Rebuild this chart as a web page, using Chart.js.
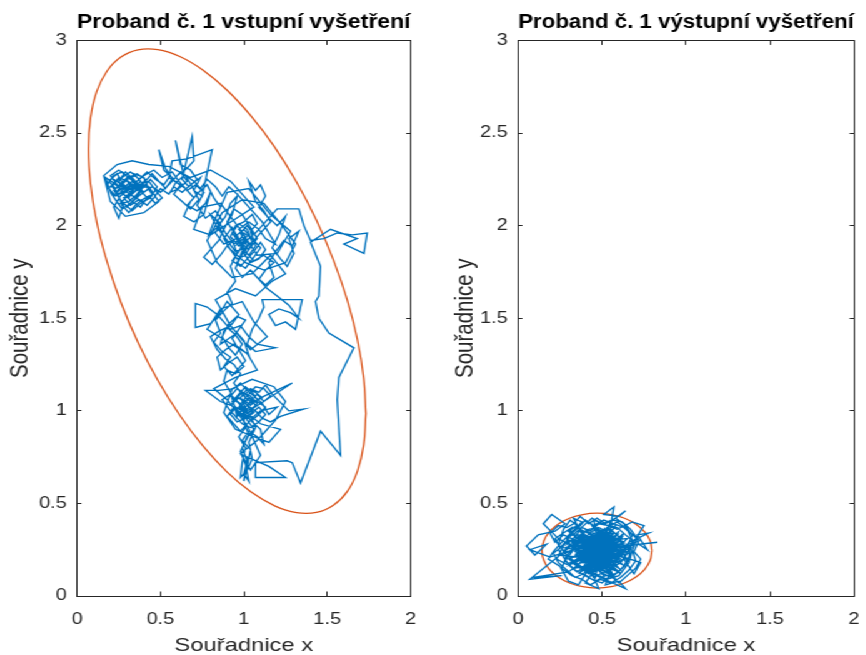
<!DOCTYPE html>
<html><head><meta charset="utf-8">
<script src="https://cdn.jsdelivr.net/npm/chart.js@4.4.1/dist/chart.umd.min.js"></script>
<style>
html,body{margin:0;padding:0;background:#fff;overflow:hidden;}
#stage{position:absolute;left:0;top:0;width:693px;height:655px;transform:scaleX(1.25);transform-origin:0 0;}
#c1{position:absolute;left:0;top:0;}
#c2{position:absolute;left:346px;top:0;}
</style></head><body>
<div id="stage"><canvas id="c1" width="346" height="655"></canvas><canvas id="c2" width="347" height="655"></canvas></div>
<script>
// ---- data ----
const titles = ['Proband č. 1 vstupní vyšetření', 'Proband č. 1 výstupní vyšetření'];
const xAxisTitle = 'Souřadnice x';
const yAxisTitle = 'Souřadnice y';
const xTickLabels = ['0', '0.5', '1', '1.5', '2'];
const yTickLabels = ['0', '0.5', '1', '1.5', '2', '2.5', '3'];

const leftPath = [
[0.30,2.22],[0.26,2.18],[0.31,2.15],[0.35,2.21],[0.29,2.25],[0.23,2.20],[0.19,2.24],[0.24,2.28],[0.28,2.22],[0.33,2.19],
[0.38,2.24],[0.34,2.28],[0.40,2.26],[0.43,2.20],[0.37,2.16],[0.32,2.12],[0.27,2.09],[0.23,2.14],[0.20,2.18],[0.17,2.26],
[0.22,2.23],[0.27,2.19],[0.31,2.23],[0.36,2.19],[0.41,2.22],[0.45,2.17],[0.40,2.13],[0.35,2.15],[0.30,2.18],[0.25,2.24],
[0.29,2.29],[0.34,2.25],[0.39,2.20],[0.44,2.25],[0.48,2.21],[0.44,2.15],[0.38,2.12],[0.33,2.08],[0.28,2.12],[0.25,2.04],
[0.22,2.10],[0.26,2.16],[0.32,2.20],[0.37,2.25],[0.42,2.29],[0.47,2.25],[0.52,2.22],[0.56,2.27],[0.53,2.31],[0.49,2.41],
[0.52,2.30],[0.58,2.25],[0.62,2.29],[0.66,2.24],[0.61,2.20],[0.56,2.18],[0.59,2.23],[0.64,2.27],[0.59,2.46],[0.62,2.33],
[0.68,2.30],[0.72,2.25],[0.67,2.21],[0.63,2.25],[0.69,2.48],[0.70,2.35],[0.66,2.31],[0.60,2.27],[0.55,2.22],[0.50,2.18],
[0.45,2.21],[0.40,2.18],[0.35,2.23],[0.31,2.27],[0.27,2.23],[0.22,2.19],[0.26,2.14],[0.30,2.10],[0.34,2.14],[0.38,2.18],
[0.34,2.22],[0.29,2.20],[0.24,2.22],[0.20,2.27],[0.25,2.30],[0.31,2.26],[0.36,2.28],[0.41,2.25],[0.38,2.21],[0.33,2.17],
[0.28,2.15],[0.32,2.11],[0.37,2.14],[0.42,2.11],[0.46,2.15],[0.50,2.20],[0.55,2.17],[0.58,2.21],[0.63,2.18],[0.68,2.22],
[0.74,2.26],[0.70,2.19],[0.75,2.16],[0.81,2.41],[0.66,2.36],[0.57,2.35],[0.55,2.26],[0.60,2.23],[0.65,2.20],[0.70,2.15],
[0.66,2.11],[0.72,2.08],[0.77,2.12],[0.80,2.18],[0.76,2.06],[0.70,2.02],[0.64,2.05],[0.68,2.13],[0.73,2.18],[0.78,2.22],
[0.82,2.15],[0.86,2.10],[0.82,2.02],[0.79,1.95],[0.84,1.99],[0.89,2.05],[0.92,2.12],[0.96,2.16],[0.93,2.06],[0.88,1.98],
[0.85,1.92],[0.80,1.87],[0.76,1.83],[0.81,1.79],[0.86,1.84],[0.90,1.89],
[0.95,1.93],[1.00,1.90],[1.04,1.94],[1.00,1.98],[0.96,1.95],[0.99,1.87],[1.03,1.84],[1.07,1.89],[1.04,1.97],[1.08,2.01],
[1.05,2.06],[1.00,2.02],[0.95,2.00],[0.92,1.94],[0.97,1.89],[1.01,1.93],[0.97,1.86],[0.93,1.81],[0.98,1.78],[1.02,1.82],
[1.06,1.86],[1.10,1.91],[1.13,1.87],[1.09,1.82],[1.04,1.80],[1.00,1.85],[1.03,1.90],[0.99,1.94],[0.94,1.90],[0.89,1.96],
[0.85,2.02],[0.80,2.06],[0.84,1.99],[0.90,1.92],[0.95,1.86],[1.01,1.88],[1.06,1.92],[1.11,1.97],[1.16,2.02],[1.12,2.08],
[1.07,2.13],[1.03,2.24],[1.07,2.19],[1.10,2.22],[1.13,2.16],[1.09,2.10],[1.14,2.05],[1.20,2.00],[1.25,2.05],[1.21,1.95],
[1.17,1.88],[1.22,1.82],[1.26,1.78],[1.30,1.85],[1.27,1.93],[1.33,1.97],[1.29,1.89],[1.24,1.92],[1.19,1.86],[1.15,1.80],
[1.18,1.72],[1.13,1.68],[1.08,1.72],[1.04,1.76],[0.99,1.72],[0.95,1.77],[0.98,1.83],[1.02,1.89],[0.98,1.96],[1.02,2.00],
[1.06,1.95],[1.20,2.09],[1.27,2.09],[1.33,2.09],[1.36,2.00],[1.40,1.92],
[1.48,1.93],[1.56,1.96],[1.65,1.95],[1.74,1.96],[1.72,1.85],[1.60,1.90],[1.68,1.93],[1.52,1.98],[1.40,1.91],
[1.46,1.78],[1.45,1.62],[1.43,1.59],[1.45,1.50],[1.51,1.42],[1.66,1.34],[1.57,1.18],[1.56,1.06],[1.58,0.76],[1.46,0.89],
[1.34,0.61],[1.29,0.72],[1.26,0.73],[1.07,0.72],[1.07,0.64],[1.25,0.64],[1.15,0.70],
[1.02,0.75],[1.00,0.62],[1.02,0.70],[1.04,0.79],[0.99,0.84],[1.03,0.89],[1.08,0.86],[1.12,0.82],[1.10,0.90],[1.05,0.94],
[1.01,0.98],[0.97,1.02],[1.00,1.06],[1.04,1.03],[1.08,1.06],[1.05,1.10],[1.01,1.13],[0.97,1.09],[0.93,1.05],[0.96,1.00],
[1.00,0.96],[1.05,0.99],[1.09,1.02],[1.13,0.98],[1.09,0.94],[1.04,0.91],[0.99,0.93],[0.95,0.97],[0.91,1.01],[0.87,1.06],
[0.92,1.09],[0.96,1.05],[1.00,1.01],[1.04,1.05],[1.08,1.09],[1.12,1.05],[1.16,1.08],[1.12,1.12],[1.07,1.13],[1.03,1.09],
[0.99,1.05],[1.02,1.00],[1.06,1.02],[1.03,0.96],[0.98,0.99],[0.94,1.02],[0.90,0.97],[0.94,0.93],[0.98,0.89],[1.02,0.93],
[1.06,0.97],[1.10,1.00],[1.20,1.02],[1.15,0.98],[1.11,1.04],[1.06,1.08],[1.02,1.11],[0.98,1.15],[0.94,1.12],[0.85,1.11],
[0.77,1.11],[0.86,1.05],[0.92,1.03],[0.97,1.07],[1.01,1.04],[1.05,1.01],[1.29,1.15],[1.10,1.07],[1.05,1.04],[1.00,1.08],
[1.04,1.12],[1.09,1.10],[1.13,1.14],[1.17,1.09],[1.27,1.00],[1.36,1.01],[1.22,0.97],[1.16,0.94],[1.11,0.96],[1.07,1.00],
[1.03,1.02],[0.99,0.98],[1.01,0.91],[0.97,0.86],[1.01,0.80],[0.99,0.72],[0.98,0.64],[1.02,0.68],[1.05,0.74],[1.03,0.83],
[1.07,0.91],[1.04,0.97],[1.00,1.02],[0.96,0.97],
[0.92,1.10],[0.88,1.16],[0.90,1.22],[0.95,1.20],[1.00,1.24],[0.96,1.29],[0.91,1.26],[0.86,1.22],[0.84,1.29],[0.89,1.33],
[0.94,1.36],[0.99,1.33],[1.03,1.30],[1.00,1.38],[0.96,1.42],[0.91,1.39],[0.86,1.36],[0.88,1.43],[0.93,1.47],[0.97,1.52],
[0.93,1.56],[0.90,1.59],[0.85,1.52],[0.80,1.47],[0.71,1.45],[0.71,1.58],[0.78,1.56],[0.84,1.52],[0.88,1.48],[0.92,1.44],
[0.98,1.46],[1.03,1.40],[1.08,1.36],[1.19,1.34],[1.07,1.32],[1.02,1.36],[1.05,1.44],[1.09,1.50],[1.12,1.56],[1.11,1.60],
[1.23,1.60],[1.35,1.60],[1.31,1.44],[1.25,1.48],[1.19,1.46],[1.15,1.52],[1.21,1.55],[1.28,1.53],[1.33,1.50],[1.27,1.57],
[1.20,1.62],[1.14,1.66],[1.09,1.71],[1.13,1.76],[1.18,1.80],[1.12,1.84],[1.06,1.81],[1.01,1.86],[0.97,1.91],
[0.93,1.96],[0.97,2.01],[1.02,1.98],[1.05,1.91],[1.01,1.84],[0.96,1.82],[0.92,1.87],[0.88,1.93],[0.93,1.99],[0.98,1.91],
[1.03,1.87],[1.08,1.93],[1.04,1.99],[0.99,2.06],[0.94,2.09],[0.90,2.02],[0.95,1.95],[1.00,1.88],[0.96,1.80],[1.01,1.77],
[1.06,1.83],[1.10,1.88],[1.05,1.93],[1.00,1.96],[0.96,1.90],[1.01,1.94],[0.97,1.98],[1.03,2.02],[1.09,1.98],[1.13,1.93],
[1.19,1.90],[1.15,1.96],[1.11,2.02],[1.06,2.07],[1.01,2.12],[0.96,2.17],[0.91,2.21],[0.87,2.16],[0.83,2.21],[0.78,2.25],
[0.74,2.20],[0.70,2.24],[0.65,2.27],[0.69,2.21],[0.73,2.14],[0.68,2.09],[0.63,2.13],[0.58,2.17],[0.62,2.22],[0.57,2.25],
[0.53,2.20],[0.49,2.24],[0.45,2.28],[0.41,2.24],[0.37,2.20],
[0.33,2.24],[0.29,2.19],[0.25,2.17],[0.21,2.21],[0.25,2.26],[0.30,2.24],[0.34,2.20],[0.30,2.16],[0.26,2.12],[0.31,2.13],
[0.36,2.17],[0.40,2.22],[0.36,2.26],[0.32,2.29],[0.27,2.26],[0.23,2.24],[0.19,2.20],[0.23,2.16],[0.28,2.18],[0.33,2.22],
[0.38,2.19],[0.42,2.15],[0.38,2.10],[0.33,2.13],[0.29,2.16],[0.34,2.18],[0.39,2.23],[0.35,2.27],[0.30,2.25],[0.26,2.21],
[0.22,2.16],[0.18,2.22],[0.22,2.27],[0.27,2.29],[0.32,2.25],[0.37,2.22],[0.43,2.24],[0.47,2.19],[0.51,2.15],[0.47,2.12],
[0.43,2.16],[0.39,2.14],[0.35,2.11],[0.31,2.07],[0.27,2.11],[0.24,2.18],[0.28,2.21],[0.32,2.18],[0.36,2.24],[0.40,2.27],
[0.46,2.30],[0.51,2.26],[0.57,2.29],[0.61,2.24],[0.66,2.19],[0.71,2.22],[0.76,2.18],[0.72,2.11],[0.77,2.04],[0.83,2.08],
[0.87,2.03],[0.83,1.96],[0.88,1.90],[0.93,1.92],
[0.96,1.85],[0.92,1.78],[0.95,1.70],[0.90,1.64],[0.93,1.58],[0.88,1.54],[0.83,1.49],[0.86,1.42],[0.82,1.37],[0.87,1.32],
[0.92,1.29],[0.88,1.24],[0.93,1.19],[0.97,1.23],[1.01,1.27],[0.97,1.33],[0.93,1.39],[0.97,1.44],[1.01,1.49],[0.96,1.51],
[0.91,1.47],[0.87,1.40],[0.91,1.34],[0.95,1.30],[0.99,1.36],[0.95,1.41],[0.90,1.45],[0.85,1.43],[0.80,1.40],[0.84,1.33],
[0.89,1.28],[0.94,1.25],[0.98,1.20],[0.94,1.15],
[0.98,1.10],[1.02,1.06],[0.98,1.02],[1.03,0.99],[1.07,1.03],[1.03,1.07],[0.99,1.03],[0.95,1.06],[0.99,1.10],[1.04,1.08],
[1.08,1.04],[1.04,1.00],[1.00,0.97],[1.05,0.95],[1.09,0.98],[1.13,1.02],[1.08,1.05],[1.03,1.04],[0.99,1.00],[0.95,1.02],
[0.92,0.98],[0.96,0.94],[1.01,0.96],[1.06,0.99],[1.02,1.03],[0.98,1.07],[1.02,1.12],[1.07,1.10],[1.11,1.07],[1.06,1.05],
[1.01,1.09],[0.96,1.12],[0.92,1.08],[0.97,1.04],[1.01,1.01],
[1.00,0.94],[1.03,0.87],[0.99,0.80],[1.02,0.73],[1.00,0.66],[1.03,0.62],[1.01,0.71],[0.98,0.78],[1.02,0.86],[1.06,0.90],
[1.02,0.95],[0.99,1.01],
[1.10,0.93],[1.22,0.90],[1.15,0.83],[1.06,0.86],[0.95,0.90],[0.88,0.99],[0.93,1.12],[1.05,1.17],[1.18,1.13],[1.25,1.05],
[1.19,0.95],[1.08,0.84],[0.98,0.77],[1.04,0.68],[1.10,0.76],[1.02,0.92],[0.90,1.06],[0.82,1.12],[0.95,1.18],[1.08,1.22],
[1.02,1.31],[0.89,1.38],[0.78,1.44],[0.86,1.55],[0.99,1.59],[1.06,1.48],[1.14,1.40],[1.04,1.33],[0.92,1.46],[0.83,1.60],
[0.95,1.66],[1.07,1.62],[1.17,1.70],[1.25,1.74],[1.16,1.84],
[1.05,1.74],[0.93,1.72],[0.84,1.80],[0.78,1.92],[0.87,2.07],[0.99,2.14],[1.12,2.12],[1.23,2.00],[1.31,1.90],[1.25,1.80],
[1.12,1.76],[1.01,1.80],[0.91,1.88],[0.83,2.04],[0.90,2.18],[1.03,2.20],[1.16,2.06],[1.28,1.97],[1.20,1.85],[1.08,1.84],
[0.97,1.99],[0.86,2.12],[0.75,2.10],[0.70,1.98],[0.80,1.95],[0.94,2.03],[1.06,2.10],
[0.92,2.24],[0.80,2.30],[0.68,2.26],[0.55,2.32],[0.43,2.33],[0.33,2.35],[0.24,2.33],[0.16,2.27],[0.20,2.13],[0.29,2.05],
[0.40,2.07],[0.49,2.13],[0.43,2.21],[0.30,2.20],[0.22,2.25]
];

const leftEllipse = [
[1.732,0.985],[1.719,1.175],[1.682,1.381],[1.621,1.596],[1.537,1.815],[1.435,2.030],[1.316,2.235],[1.185,2.424],[1.044,2.591],
[0.900,2.731],[0.756,2.839],[0.616,2.913],[0.484,2.950],[0.365,2.949],[0.263,2.910],[0.180,2.835],[0.118,2.725],[0.081,2.583],
[0.068,2.415],[0.081,2.225],[0.118,2.019],[0.180,1.804],[0.263,1.585],[0.365,1.370],[0.484,1.165],[0.616,0.976],[0.756,0.809],
[0.900,0.669],[1.044,0.561],[1.185,0.487],[1.316,0.450],[1.435,0.451],[1.537,0.490],[1.621,0.565],[1.682,0.676],[1.719,0.817],
[1.732,0.985]
];

const rightPath = [
[0.45,0.25],[0.52,0.20],[0.40,0.28],[0.55,0.31],[0.47,0.17],[0.36,0.23],[0.58,0.26],[0.43,0.33],[0.50,0.14],[0.61,0.22],
[0.38,0.18],[0.49,0.30],[0.56,0.12],[0.42,0.21],[0.63,0.29],[0.46,0.36],[0.33,0.27],[0.53,0.24],[0.40,0.13],[0.59,0.19],
[0.48,0.27],[0.35,0.31],[0.57,0.34],[0.44,0.16],[0.62,0.25],[0.39,0.24],[0.51,0.32],[0.46,0.10],[0.30,0.20],[0.54,0.28],
[0.41,0.35],[0.60,0.15],[0.47,0.22],[0.37,0.29],[0.65,0.31],[0.50,0.18],[0.34,0.15],[0.55,0.37],[0.43,0.26],[0.58,0.09],
[0.49,0.23],[0.28,0.26],[0.52,0.33],[0.45,0.13],[0.64,0.20],[0.38,0.32],[0.53,0.16],[0.42,0.29],[0.67,0.26],[0.47,0.19],
[0.32,0.34],[0.56,0.22],[0.44,0.38],[0.60,0.30],[0.36,0.12],[0.50,0.26],[0.40,0.20],[0.57,0.14],[0.46,0.32],[0.26,0.22],
[0.54,0.19],[0.48,0.34],[0.62,0.17],[0.39,0.27],[0.51,0.11],[0.35,0.25],[0.59,0.33],[0.43,0.18],[0.66,0.23],[0.47,0.29],
[0.31,0.17],[0.55,0.26],[0.41,0.31],[0.58,0.38],[0.45,0.21],[0.37,0.36],[0.53,0.29],[0.49,0.15],[0.63,0.27],[0.40,0.23],
[0.24,0.31],[0.15,0.39],[0.20,0.44],[0.28,0.39],[0.22,0.35],[0.12,0.33],[0.05,0.27],[0.10,0.22],[0.17,0.28],[0.07,0.25],
[0.19,0.21],[0.29,0.24],[0.44,0.27],[0.61,0.12],[0.48,0.20],[0.34,0.29],[0.56,0.30],[0.42,0.14],[0.70,0.29],[0.50,0.24],
[0.44,0.30],[0.53,0.35],[0.39,0.16],[0.57,0.21],[0.46,0.26],[0.36,0.33],[0.60,0.27],[0.43,0.11],[0.52,0.28],[0.41,0.24],
[0.55,0.17],[0.48,0.31],[0.33,0.21],[0.58,0.24],[0.45,0.18],[0.51,0.36],[0.38,0.26],[0.62,0.32],[0.47,0.14],[0.54,0.23],
[0.42,0.34],[0.59,0.16],[0.44,0.22],[0.35,0.19],[0.56,0.33],[0.49,0.21],[0.40,0.30],[0.64,0.24],[0.46,0.16],[0.53,0.27],
[0.57,0.48],[0.51,0.44],[0.60,0.43],[0.64,0.46],[0.55,0.40],[0.50,0.29],[0.43,0.23],[0.58,0.31],[0.37,0.21],[0.52,0.15],
[0.47,0.33],[0.61,0.20],[0.41,0.17],[0.55,0.35],[0.45,0.28],[0.31,0.30],[0.50,0.19],[0.63,0.34],[0.39,0.14],[0.54,0.26],
[0.83,0.29],[0.72,0.28],[0.77,0.25],[0.71,0.33],[0.78,0.34],[0.66,0.29],[0.57,0.19],[0.48,0.25],[0.42,0.32],[0.59,0.28],
[0.44,0.15],[0.53,0.31],[0.36,0.26],[0.51,0.22],[0.60,0.35],[0.46,0.20],[0.38,0.35],[0.56,0.16],[0.49,0.33],[0.41,0.19],
[0.48,0.04],[0.40,0.07],[0.44,0.12],[0.64,0.04],[0.60,0.08],[0.52,0.06],[0.55,0.14],[0.47,0.24],[0.62,0.23],[0.45,0.34],
[0.34,0.24],[0.58,0.21],[0.50,0.31],[0.39,0.22],[0.54,0.12],[0.43,0.28],[0.57,0.29],[0.46,0.13],[0.52,0.25],[0.40,0.33],
[0.07,0.09],[0.26,0.11],[0.09,0.10],[0.30,0.13],[0.36,0.17],[0.49,0.27],[0.55,0.20],[0.42,0.25],[0.61,0.31],[0.47,0.18],
[0.33,0.42],[0.38,0.40],[0.27,0.30],[0.21,0.24],[0.18,0.20],[0.25,0.16],[0.30,0.08],[0.36,0.06],[0.45,0.19],[0.53,0.33],
[0.69,0.12],[0.73,0.18],[0.63,0.21],[0.75,0.38],[0.68,0.40],[0.59,0.36],[0.45,0.41],[0.48,0.29],[0.56,0.24],[0.44,0.20],
[0.51,0.27],[0.39,0.29],[0.58,0.17],[0.46,0.35],[0.54,0.21],[0.41,0.15],[0.50,0.23],[0.60,0.26],[0.37,0.31],[0.52,0.18],
[0.47,0.30],[0.55,0.28],[0.43,0.20],[0.57,0.32],[0.49,0.17],[0.44,0.26],[0.62,0.28],[0.40,0.19],[0.53,0.30],[0.48,0.22],
[0.30,0.35],[0.35,0.38],[0.31,0.41],[0.27,0.36],[0.24,0.28],[0.29,0.22],[0.26,0.15],[0.32,0.11],[0.38,0.09],[0.43,0.06],
[0.49,0.09],[0.55,0.07],[0.61,0.10],[0.66,0.14],[0.70,0.19],[0.68,0.25],[0.71,0.31],[0.67,0.36],[0.62,0.40],[0.56,0.41],
[0.50,0.39],[0.44,0.42],[0.39,0.38],[0.34,0.34],[0.29,0.31],[0.33,0.25],[0.28,0.19],[0.34,0.14],[0.40,0.11],[0.46,0.08],
[0.52,0.11],[0.58,0.12],[0.63,0.16],[0.67,0.21],[0.65,0.27],[0.68,0.33],[0.63,0.37],[0.57,0.39],[0.51,0.41],[0.45,0.38],
[0.40,0.41],[0.36,0.37],[0.31,0.33],[0.27,0.27],[0.23,0.20],[0.29,0.17],[0.35,0.20],[0.41,0.26],[0.47,0.31],[0.53,0.37],
[0.59,0.40],[0.65,0.36],[0.69,0.28],[0.66,0.18],[0.60,0.11],[0.53,0.09],[0.46,0.12],[0.39,0.15],[0.33,0.19],[0.27,0.24],
[0.31,0.28],[0.37,0.24],[0.43,0.19],[0.49,0.13],[0.55,0.10],[0.61,0.14],[0.65,0.19],[0.62,0.24],[0.58,0.29],[0.54,0.34],
[0.48,0.37],[0.42,0.36],[0.37,0.33],[0.32,0.29],[0.36,0.21],[0.41,0.17],[0.47,0.15],[0.53,0.18],[0.59,0.22],[0.64,0.26],
[0.60,0.32],[0.55,0.36],[0.49,0.35],[0.43,0.31],[0.38,0.27],[0.34,0.22],[0.39,0.18],[0.45,0.24],[0.51,0.29],[0.57,0.25],
[0.52,0.16],[0.47,0.21],[0.42,0.27],[0.48,0.32],[0.54,0.27],[0.50,0.20],[0.44,0.17],[0.40,0.22],[0.46,0.27],[0.52,0.23],
[0.27,0.33],[0.22,0.29],[0.19,0.34],[0.24,0.38],[0.29,0.37],[0.33,0.39],[0.37,0.43],[0.42,0.39],[0.47,0.42],[0.52,0.39],
[0.58,0.42],[0.63,0.39],[0.67,0.34],[0.72,0.30],[0.69,0.24],[0.73,0.20],[0.70,0.15],[0.65,0.11],[0.60,0.07],[0.55,0.11],
[0.50,0.07],[0.44,0.09],[0.39,0.12],[0.34,0.10],[0.29,0.14],[0.24,0.18],[0.21,0.23],[0.25,0.26],[0.22,0.31],[0.27,0.34],
[0.32,0.37],[0.29,0.28],[0.34,0.32],[0.38,0.37],[0.43,0.35],[0.48,0.39],[0.54,0.38],[0.59,0.37],[0.64,0.33],[0.68,0.30],
[0.66,0.21],[0.62,0.15],[0.57,0.11],[0.51,0.13],[0.45,0.10],[0.40,0.16],[0.35,0.13],[0.31,0.16],[0.27,0.21],[0.24,0.25],
[0.28,0.29],[0.33,0.30],[0.37,0.27],[0.41,0.29],[0.45,0.32],[0.50,0.34],[0.56,0.32],[0.61,0.29],[0.65,0.23],[0.61,0.18],
[0.57,0.16],[0.52,0.13],[0.47,0.16],[0.42,0.12],[0.37,0.15],[0.32,0.18],[0.30,0.23],[0.34,0.27],[0.39,0.31],[0.44,0.29],
[0.49,0.26],[0.54,0.22],[0.59,0.20],[0.63,0.23],[0.60,0.28],[0.55,0.25],[0.50,0.22],[0.45,0.23],[0.41,0.21],[0.37,0.19]
];

const rightEllipse = [
[0.798,0.245],[0.787,0.297],[0.754,0.346],[0.702,0.388],[0.634,0.420],[0.555,0.440],[0.470,0.447],[0.385,0.440],
[0.306,0.420],[0.238,0.388],[0.186,0.346],[0.153,0.297],[0.142,0.245],[0.153,0.193],[0.186,0.144],[0.238,0.102],
[0.306,0.070],[0.385,0.050],[0.470,0.043],[0.555,0.050],[0.634,0.070],[0.702,0.102],[0.754,0.144],[0.787,0.193],
[0.798,0.245]
];

// ---- chart ----
const FONT = "'Liberation Sans', Arial, Helvetica, sans-serif";
const AX = '#262626';
const toXY = arr => arr.map(p => ({x: p[0], y: p[1]}));

function makeChart(id, path, ellipse, title, yAxisWidth, padRight, yTitlePad) {
  const hiddenAxis = (pos, max, fitFn) => ({
    type: 'linear', position: pos, min: 0, max: max,
    ticks: {display: false, stepSize: 0.5, padding: 0},
    grid: {drawOnChartArea: false, drawTicks: true, tickLength: pos === 'top' ? -4.5 : -3.5, color: AX, lineWidth: 1},
    border: {display: true, color: AX, width: 1},
    afterFit: fitFn
  });
  return new Chart(document.getElementById(id), {
    type: 'scatter',
    data: {
      datasets: [
        {data: toXY(path), showLine: true, borderColor: '#0072BD', borderWidth: 1.35, pointRadius: 0, pointHoverRadius: 0, tension: 0, fill: false},
        {data: toXY(ellipse), showLine: true, borderColor: '#D95319', borderWidth: 1.3, pointRadius: 0, pointHoverRadius: 0, tension: 0.4, fill: false}
      ]
    },
    options: {
      responsive: false, animation: false, devicePixelRatio: 1, events: [],
      layout: {padding: {left: 0, right: padRight, top: 0, bottom: 0}},
      plugins: {
        legend: {display: false}, tooltip: {enabled: false},
        title: {display: true, text: title, fullSize: false, color: '#000',
          font: {family: FONT, size: 19.6, weight: 'bold', lineHeight: 1.2}, padding: {top: 10.6, bottom: 6.3}}
      },
      scales: {
        x: {
          type: 'linear', position: 'bottom', min: 0, max: 2,
          ticks: {stepSize: 0.5, autoSkip: false, maxRotation: 0, color: AX, padding: 4,
            font: {family: FONT, size: 16, lineHeight: 2.95}, callback: (v, i) => xTickLabels[i]},
          grid: {drawOnChartArea: false, drawTicks: true, tickLength: -4.5, color: AX, lineWidth: 1},
          border: {display: true, color: AX, width: 1},
          title: {display: true, text: xAxisTitle, color: AX, font: {family: FONT, size: 19, lineHeight: 1}, padding: {top: 0, bottom: 0}},
          afterFit: s => { s.height = 59; }
        },
        y: {
          type: 'linear', position: 'left', min: 0, max: 3,
          ticks: {stepSize: 0.5, autoSkip: false, color: AX, padding: 11.7,
            font: {family: FONT, size: 16, lineHeight: 1.2}, callback: (v, i) => yTickLabels[i]},
          grid: {drawOnChartArea: false, drawTicks: true, tickLength: -3.5, color: AX, lineWidth: 1},
          border: {display: true, color: AX, width: 1},
          title: {display: true, text: yAxisTitle, color: AX, font: {family: FONT, size: 20.5, lineHeight: 1}, padding: {top: yTitlePad, bottom: 0}},
          afterFit: s => { s.width = yAxisWidth; }
        },
        xTop: hiddenAxis('top', 2, s => { s.height = 0; }),
        yRight: hiddenAxis('right', 3, s => { s.width = 0; })
      }
    }
  });
}

makeChart('c1', leftPath, leftEllipse, titles[0], 61.6, 17.6, 6.5);
makeChart('c2', rightPath, rightEllipse, titles[1], 68.4, 9.8, 16);
</script>
</body></html>
